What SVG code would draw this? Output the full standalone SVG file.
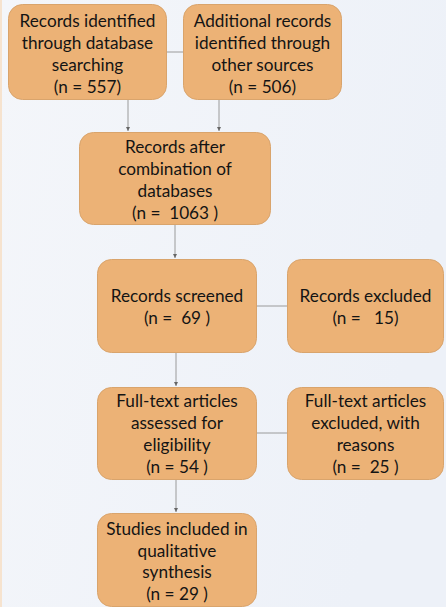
<svg xmlns="http://www.w3.org/2000/svg" width="446" height="607" viewBox="0 0 446 607">
<defs>
<linearGradient id="bg" x1="0" y1="0" x2="1" y2="0.3">
<stop offset="0" stop-color="#F4F6FA"/>
<stop offset="1" stop-color="#EDF1F8"/>
</linearGradient>
<marker id="arr" viewBox="0 0 6 6" refX="6" refY="3" markerWidth="4" markerHeight="4" orient="auto">
<path d="M0,0 L6,3 L0,6 Z" fill="#666"/>
</marker>
<style>
.box{fill:#ECB276;stroke:#D9A46C;stroke-width:1}
.t{font-family:"Lato","Liberation Sans",sans-serif;font-size:17.2px;fill:#141414;text-anchor:middle;white-space:pre}
.c{stroke:#9a9a9a;stroke-width:1;fill:none}
</style>
</defs>
<rect x="0" y="0" width="446" height="607" fill="url(#bg)"/>
<rect x="0" y="0" width="2" height="607" fill="#F6E3CF"/>
<g id="connectors">
<line class="c" x1="166" y1="52" x2="183" y2="52"/>
<line class="c" x1="128" y1="99" x2="128" y2="131" marker-end="url(#arr)"/>
<line class="c" x1="219" y1="99" x2="219" y2="131" marker-end="url(#arr)"/>
<line class="c" x1="175" y1="224" x2="175" y2="258" marker-end="url(#arr)"/>
<line class="c" x1="256" y1="306" x2="287" y2="306"/>
<line class="c" x1="176" y1="352" x2="176" y2="386" marker-end="url(#arr)"/>
<line class="c" x1="256" y1="433" x2="287" y2="433"/>
<line class="c" x1="176" y1="479" x2="176" y2="512" marker-end="url(#arr)"/>
</g>
<g id="n1">
<rect class="box" x="8.5" y="4.5" width="158" height="95" rx="14"/>
<text class="t" x="87.5" y="27">Records identified</text>
<text class="t" x="87.5" y="49">through database</text>
<text class="t" x="87.5" y="71">searching</text>
<text class="t" x="87.5" y="93">(n = 557)</text>
</g>
<g id="n2">
<rect class="box" x="183.5" y="4.5" width="158" height="95" rx="14"/>
<text class="t" x="262.5" y="27">Additional records</text>
<text class="t" x="262.5" y="49">identified through</text>
<text class="t" x="262.5" y="71">other sources</text>
<text class="t" x="262.5" y="93">(n = 506)</text>
</g>
<g id="n3">
<rect class="box" x="79.5" y="132.5" width="191" height="92" rx="14"/>
<text class="t" x="175" y="153">Records after</text>
<text class="t" x="175" y="175">combination of</text>
<text class="t" x="175" y="197">databases</text>
<text class="t" x="175" y="219">(n =  1063 )</text>
</g>
<g id="n4">
<rect class="box" x="97.5" y="259.5" width="159" height="93" rx="14"/>
<text class="t" x="177" y="302">Records screened</text>
<text class="t" x="177" y="324">(n =  69 )</text>
</g>
<g id="n5">
<rect class="box" x="287.5" y="259.5" width="156" height="93" rx="14"/>
<text class="t" x="365.5" y="302">Records excluded</text>
<text class="t" x="365.5" y="324">(n =   15)</text>
</g>
<g id="n6">
<rect class="box" x="97.5" y="387.5" width="159" height="92" rx="14"/>
<text class="t" x="177" y="407">Full-text articles</text>
<text class="t" x="177" y="429">assessed for</text>
<text class="t" x="177" y="451">eligibility</text>
<text class="t" x="177" y="473">(n = 54 )</text>
</g>
<g id="n7">
<rect class="box" x="287.5" y="387.5" width="156" height="92" rx="14"/>
<text class="t" x="365.5" y="407">Full-text articles</text>
<text class="t" x="365.5" y="429">excluded, with</text>
<text class="t" x="365.5" y="451">reasons</text>
<text class="t" x="365.5" y="473">(n =  25 )</text>
</g>
<g id="n8">
<rect class="box" x="97.5" y="513.5" width="159" height="93" rx="14"/>
<text class="t" x="177" y="535">Studies included in</text>
<text class="t" x="177" y="557">qualitative</text>
<text class="t" x="177" y="578">synthesis</text>
<text class="t" x="177" y="600">(n = 29 )</text>
</g>
</svg>
